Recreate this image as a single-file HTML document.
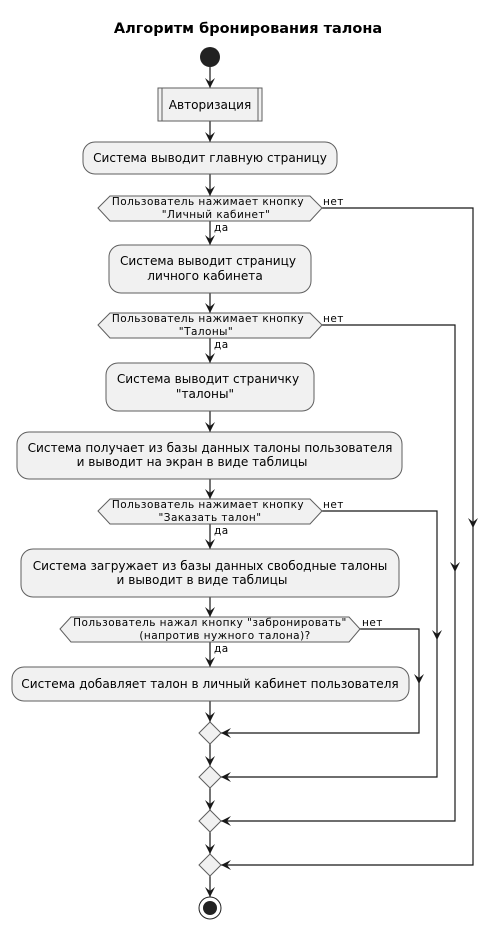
<!DOCTYPE html>
<html><head><meta charset="utf-8"><style>
html,body{margin:0;padding:0;background:#fff}
svg{display:block}
.t{font-family:"DejaVu Sans","Liberation Sans",sans-serif;font-size:12.1px;fill:#000}
.s{font-family:"DejaVu Sans","Liberation Sans",sans-serif;font-size:10.5px;fill:#000;letter-spacing:0.45px}
.b{fill:#f1f1f1;stroke:#5e5e5e;stroke-width:1}
.l{stroke:#181818;stroke-width:1.2;fill:none}
.a{fill:#181818}
</style></head><body>
<svg width="498" height="929" viewBox="0 0 498 929" xmlns="http://www.w3.org/2000/svg">
<defs>
<polygon id="ad" points="-5,-10 0,0 5,-10 0,-6"/>
<polygon id="al" points="10,-5 0,0 10,5 6,0"/>
</defs>
<text x="248" y="33" text-anchor="middle" font-family="DejaVu Sans,Liberation Sans,sans-serif" font-size="14.5" font-weight="bold">Алгоритм бронирования талона</text>
<circle cx="210" cy="57" r="10" fill="#222"/>
<path class="l" d="M210,67V88 M210,121V142 M210,174V196 M210,221V245 M210,293V313 M210,338V363 M210,411V432 M210,479V499 M210,524V549 M210,597V617 M210,642V667 M210,701V722 M210,744V766 M210,788V810 M210,832V854 M210,876V897"/>
<g class="a">
<use href="#ad" x="210" y="88"/><use href="#ad" x="210" y="142"/><use href="#ad" x="210" y="196"/>
<use href="#ad" x="210" y="245"/><use href="#ad" x="210" y="313"/><use href="#ad" x="210" y="363"/>
<use href="#ad" x="210" y="432"/><use href="#ad" x="210" y="499"/><use href="#ad" x="210" y="549"/>
<use href="#ad" x="210" y="617"/><use href="#ad" x="210" y="667"/><use href="#ad" x="210" y="722"/>
<use href="#ad" x="210" y="766"/><use href="#ad" x="210" y="810"/><use href="#ad" x="210" y="854"/>
<use href="#ad" x="210" y="897"/>
</g>
<path class="l" d="M322,208H473V865H221 M322,325H455V821H221 M322,511H437V777H221 M360,629H419V733H221"/>
<g class="a">
<use href="#ad" x="473" y="528"/><use href="#ad" x="455" y="572"/><use href="#ad" x="437" y="640"/><use href="#ad" x="419" y="684"/>
<use href="#al" x="221" y="733"/><use href="#al" x="221" y="777"/><use href="#al" x="221" y="821"/><use href="#al" x="221" y="865"/>
</g>
<rect class="b" x="158" y="88" width="104" height="33"/>
<path d="M162,88V121M258,88V121" stroke="#5e5e5e" fill="none"/>
<text class="t" x="210" y="109" text-anchor="middle">Авторизация</text>
<rect class="b" x="83" y="142" width="254" height="32" rx="12"/>
<text class="t" x="210" y="162" text-anchor="middle">Система выводит главную страницу</text>

<polygon class="b" points="98,208 110,196 310,196 322,208 310,221 110,221"/>
<text class="s" x="208" y="205" text-anchor="middle">Пользователь нажимает кнопку</text>
<text class="s" x="216" y="218" text-anchor="middle">"Личный кабинет"</text>
<text class="s" x="323" y="205">нет</text><text class="s" x="214" y="231">да</text>

<rect class="b" x="109" y="245" width="202" height="48" rx="12"/>
<text class="t" x="208" y="265" text-anchor="middle">Система выводит страницу</text>
<text class="t" x="205" y="280" text-anchor="middle">личного кабинета</text>

<polygon class="b" points="98,325 110,313 310,313 322,325 310,338 110,338"/>
<text class="s" x="208" y="322" text-anchor="middle">Пользователь нажимает кнопку</text>
<text class="s" x="206" y="335" text-anchor="middle">"Талоны"</text>
<text class="s" x="323" y="322">нет</text><text class="s" x="214" y="348">да</text>

<rect class="b" x="106" y="363" width="208" height="48" rx="12"/>
<text class="t" x="208" y="383" text-anchor="middle">Система выводит страничку</text>
<text class="t" x="205" y="398" text-anchor="middle">"талоны"</text>

<rect class="b" x="17" y="432" width="385" height="47" rx="12"/>
<text class="t" x="210" y="452" text-anchor="middle">Система получает из базы данных талоны пользователя</text>
<text class="t" x="192" y="466" text-anchor="middle">и выводит на экран в виде таблицы</text>

<polygon class="b" points="98,511 110,499 310,499 322,511 310,524 110,524"/>
<text class="s" x="208" y="508" text-anchor="middle">Пользователь нажимает кнопку</text>
<text class="s" x="210" y="521" text-anchor="middle">"Заказать талон"</text>
<text class="s" x="323" y="508">нет</text><text class="s" x="214" y="534">да</text>

<rect class="b" x="21" y="549" width="378" height="48" rx="12"/>
<text class="t" x="210" y="570" text-anchor="middle">Система загружает из базы данных свободные талоны</text>
<text class="t" x="202" y="584" text-anchor="middle">и выводит в виде таблицы</text>

<polygon class="b" points="60,629 71,617 349,617 360,629 349,642 71,642"/>
<text class="s" x="210" y="626" text-anchor="middle">Пользователь нажал кнопку "забронировать"</text>
<text class="s" x="225" y="639" text-anchor="middle">(напротив нужного талона)?</text>
<text class="s" x="362" y="626">нет</text><text class="s" x="214" y="652">да</text>

<rect class="b" x="12" y="667" width="397" height="34" rx="12"/>
<text class="t" x="210" y="688" text-anchor="middle">Система добавляет талон в личный кабинет пользователя</text>

<g class="b">
<polygon points="210,722 221,733 210,744 199,733"/>
<polygon points="210,766 221,777 210,788 199,777"/>
<polygon points="210,810 221,821 210,832 199,821"/>
<polygon points="210,854 221,865 210,876 199,865"/>
</g>
<circle cx="210" cy="908" r="11" fill="#fff" stroke="#222" stroke-width="1"/>
<circle cx="210" cy="908" r="7" fill="#222"/>
</svg>
</body></html>
